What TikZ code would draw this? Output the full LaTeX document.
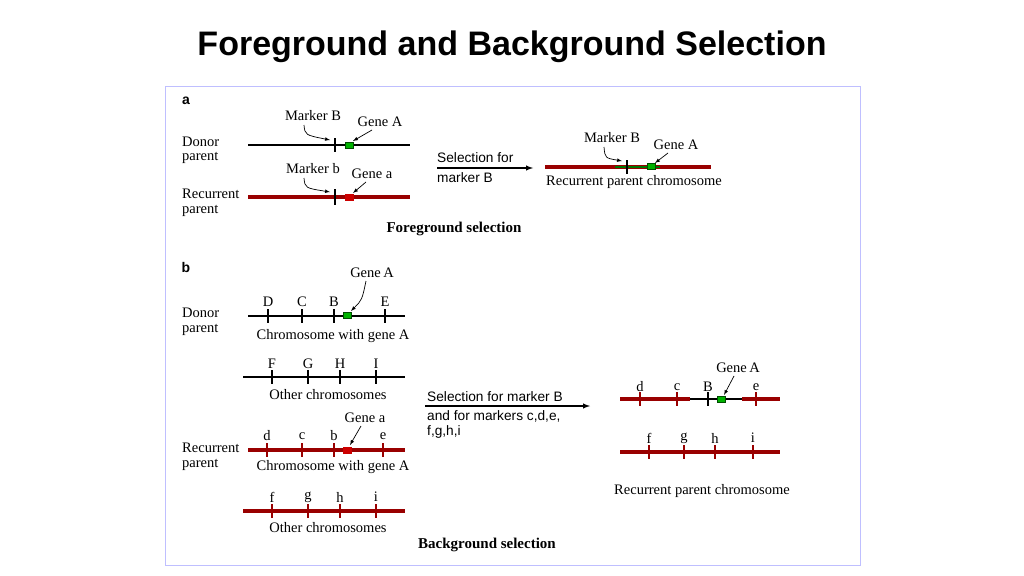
\documentclass[tikz,border=0pt]{standalone}
\usepackage{fontspec}
\setmainfont{Liberation Serif}
\newfontfamily\sansf{Liberation Sans}
\begin{document}
\begin{tikzpicture}[x=1pt,y=-1pt,
  lbl/.style={font=\fontsize{14.5}{16}\selectfont,inner sep=0pt},
  sl/.style={font=\sansf\fontsize{13.7}{15}\selectfont,inner sep=0pt,anchor=west},
  blk/.style={line width=1.8pt,black},
  red/.style={line width=3.6pt,color=red!60!black},
  tk/.style={line width=1.3pt,black},
  gbox/.style={draw=black!70!green,fill=green!70!black,minimum width=8pt,minimum height=6pt,inner sep=0pt},
  rbox/.style={fill=red!80!black,minimum width=9pt,minimum height=7pt,inner sep=0pt},
  ca/.style={-latex,line width=0.7pt}]
\useasboundingbox (0,0) rectangle (1024,575);
\node[font=\sansf\bfseries\fontsize{34}{38}\selectfont] (title) at (512,47) {Foreground and Background Selection};
\draw[blue!25,line width=1pt] (165,87) rectangle (860,565);
% part a
\node[font=\sansf\bfseries\fontsize{14}{16}\selectfont] (a) at (186,101) {a};
\node[lbl,anchor=west] (dp) at (182,142) {Donor};
\node[lbl,anchor=west] (dp2) at (182,158) {parent};
\coordinate (a1) at (248,145); \coordinate (a2) at (410,145);
\draw[blk] (a1) -- (a2);
\draw[tk] (335,138) -- (335,152);
\node[gbox] (ga) at (349,145) {};
\node[lbl] (mB) at (313,116) {Marker B};
\node[lbl] (gA) at (380,122) {Gene A};
\draw[ca] (304,125) .. controls (305,135) .. (330,140);
\draw[ca] (372,130) -- (353,141);
\node[lbl,anchor=west] (rp) at (182,194) {Recurrent};
\node[lbl,anchor=west] (rp2) at (182,211) {parent};
\coordinate (b1) at (248,197); \coordinate (b2) at (410,197);
\draw[red] (b1) -- (b2);
\draw[tk] (335,189) -- (335,205);
\node[rbox] (ra) at (349,197) {};
\node[lbl] (mb) at (313,169) {Marker b};
\node[lbl] (gaa) at (372,174) {Gene a};
\draw[ca] (304,178) .. controls (305,188) .. (330,192);
\draw[ca] (366,182) -- (353,193);
\coordinate (s1) at (437,168); \coordinate (s2) at (533,168);
\draw[-latex,line width=1.4pt] (s1) -- (s2);
\node[sl] (t1) at (437,158) {Selection for};
\node[sl] (t2) at (437,178) {marker B};
\coordinate (c1) at (545,167); \coordinate (c2) at (711,167);
\draw[red] (c1) -- (c2);
\draw[line width=1.8pt,green!45!black] (615,167) -- (660,167);
\draw[tk] (627,160) -- (627,174);
\node[gbox] (gc) at (651,166) {};
\node[lbl] (mB2) at (612,138) {Marker B};
\node[lbl] (gA2) at (676,145) {Gene A};
\draw[ca] (604,147) .. controls (605,158) .. (622,161);
\draw[ca] (668,153) -- (655,163);
\node[lbl] (rpc) at (634,182) {Recurrent parent chromosome};
\node[lbl,font=\bfseries\fontsize{15}{17}\selectfont] (fs) at (454,229) {Foreground selection};
% part b
\node[font=\sansf\bfseries\fontsize{14}{16}\selectfont] (b) at (186,267) {b};
\node[lbl,anchor=west] (bdp) at (182,313) {Donor};
\node[lbl,anchor=west] (bdp2) at (182,330) {parent};
\draw[blk] (248,316) -- (405,316);
\foreach \x/\t in {268/D,302/C,334/B,385/E}{\draw[tk] (\x,309) -- (\x,323); \node[lbl] at (\x,302) {\t};}
\node[gbox] (gb) at (347,315) {};
\node[lbl] (gAb) at (372,273) {Gene\,A};
\draw[ca] (366,281) .. controls (362,300) .. (351,311);
\node[lbl] at (333,336) {Chromosome with gene A};
\draw[blk] (243,377) -- (405,377);
\foreach \x/\t in {272/F,308/G,340/H,376/I}{\draw[tk] (\x,370) -- (\x,384); \node[lbl] at (\x,364) {\t};}
\node[lbl] at (328,395) {Other chromosomes};
\node[lbl,anchor=west] (brp) at (182,448) {Recurrent};
\node[lbl,anchor=west] (brp2) at (182,465) {parent};
\draw[red] (248,450) -- (405,450);
\foreach \x/\t in {267/d,302/c,334/b,383/e}{\draw[tk,red!60!black] (\x,443) -- (\x,457); \node[lbl] at (\x,436) {\t};}
\node[rbox] (rb) at (347,450) {};
\node[lbl] (gab) at (365,418) {Gene a};
\draw[ca] (361,426) -- (350,445);
\node[lbl] at (333,467) {Chromosome with gene A};
\draw[red] (243,511) -- (405,511);
\foreach \x/\t in {272/f,308/g,340/h,376/i}{\draw[tk,red!60!black] (\x,504) -- (\x,518); \node[lbl] at (\x,497) {\t};}
\node[lbl] at (328,528) {Other chromosomes};
\coordinate (u1) at (425,406); \coordinate (u2) at (590,406);
\draw[-latex,line width=1.4pt] (u1) -- (u2);
\node[sl] at (427,397) {Selection for marker B};
\node[sl] at (427,416) {and for markers c,d,e,};
\node[sl] at (427,432) {f,g,h,i};
\draw[red] (620,399) -- (690,399);
\draw[red] (742,399) -- (780,399);
\draw[blk] (690,399) -- (742,399);
\foreach \x/\t in {640/d,677/c,756/e}{\draw[tk,red!60!black] (\x,392) -- (\x,406); \node[lbl] at (\x,387) {\t};}
\draw[tk] (708,392) -- (708,406); \node[lbl] at (708,387) {B};
\node[gbox] (gr) at (721,399) {};
\node[lbl] (gAr) at (738,368) {Gene\,A};
\draw[ca] (734,376) -- (724,395);
\draw[red] (620,452) -- (780,452);
\foreach \x/\t in {649/f,684/g,715/h,753/i}{\draw[tk,red!60!black] (\x,445) -- (\x,459); \node[lbl] at (\x,438) {\t};}
\node[lbl] at (702,491) {Recurrent parent chromosome};
\node[lbl,font=\bfseries\fontsize{15}{17}\selectfont] at (487,545) {Background selection};
\end{tikzpicture}
\end{document}
